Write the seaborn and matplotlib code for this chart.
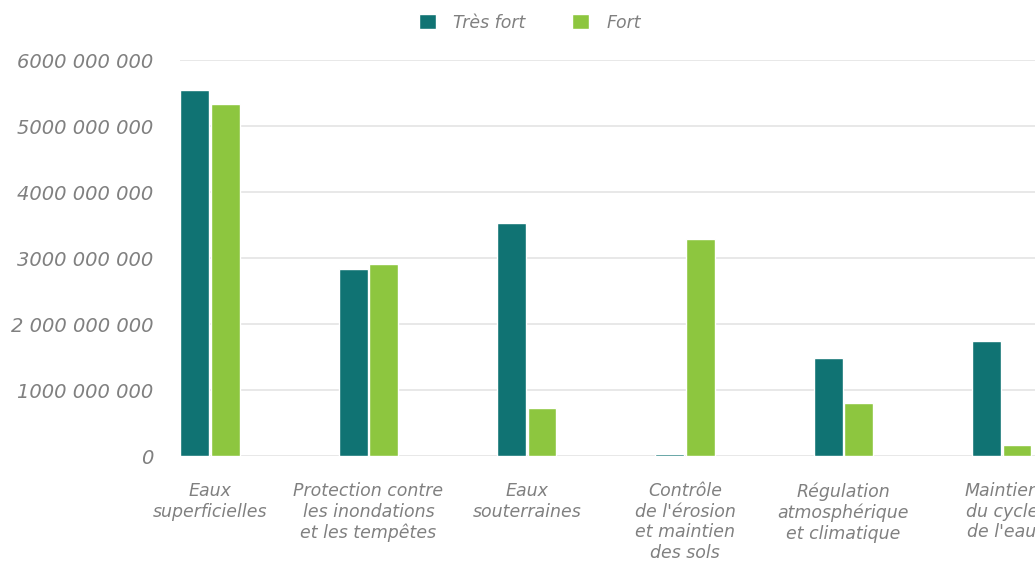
import pandas as pd
import seaborn as sns
import matplotlib.pyplot as plt

# Data
categories = [
    "Eaux\nsuperficielles",
    "Protection contre\nles inondations\net les tempêtes",
    "Eaux\nsouterraines",
    "Contrôle\nde l'érosion\net maintien\ndes sols",
    "Régulation\natmosphérique\net climatique",
    "Maintien\ndu cycle\nde l'eau",
]
tres_fort = [5.54e9, 2.83e9, 3.53e9, 0.03e9, 1.49e9, 1.75e9]
fort = [5.33e9, 2.91e9, 0.72e9, 3.29e9, 0.81e9, 0.17e9]
series_names = ["Très fort", "Fort"]
y_ticks = [0, 1e9, 2e9, 3e9, 4e9, 5e9, 6e9]
y_tick_labels = ["0", "1000 000 000", "2 000 000 000", "3000 000 000",
                 "4000 000 000", "5000 000 000", "6000 000 000"]

df = pd.DataFrame({
    "Catégorie": categories * 2,
    "Série": [series_names[0]] * len(categories) + [series_names[1]] * len(categories),
    "Valeur": tres_fort + fort,
})

sns.set_theme(style="white")
plt.rcParams["font.family"] = ["DejaVu Sans"]

grey = "#808080"
palette = {"Très fort": "#107373", "Fort": "#8dc63f"}

fig = plt.figure(figsize=(10.35, 5.64), dpi=100)
ax = fig.add_axes([180 / 1035, 1 - 456 / 564, 1 - 180 / 1035, (456 - 60) / 564])

sns.barplot(data=df, x="Catégorie", y="Valeur", hue="Série", palette=palette,
            width=0.385, gap=0.05, saturation=1, ax=ax)

ax.set_xlim(-0.19, 5.21)
ax.set_ylim(0, 6e9)
ax.set_yticks(y_ticks)
ax.set_yticklabels(y_tick_labels)
ax.grid(axis="y", color="#e8e8e8", linewidth=1.4)
ax.set_axisbelow(True)
for s in ax.spines.values():
    s.set_visible(False)
ax.set_xlabel("")
ax.set_ylabel("")
ax.tick_params(axis="y", length=0, pad=19, labelsize=14, labelcolor=grey)
ax.tick_params(axis="x", length=0, pad=19, labelsize=12.5, labelcolor=grey)
for lbl in ax.get_xticklabels() + ax.get_yticklabels():
    lbl.set_fontstyle("italic")
for lbl in ax.get_xticklabels():
    lbl.set_linespacing(1.18)

handles, labels = ax.get_legend_handles_labels()
ax.legend_.remove()
leg = fig.legend(handles, labels, loc="center", bbox_to_anchor=(0.512, 0.96),
                 ncol=2, frameon=False, handlelength=0.95, handleheight=0.95,
                 columnspacing=2.7, handletextpad=1.0,
                 prop={"size": 12.5, "style": "italic"})
for t in leg.get_texts():
    t.set_color(grey)

fig.savefig("out.png", dpi=100)
plt.close(fig)
